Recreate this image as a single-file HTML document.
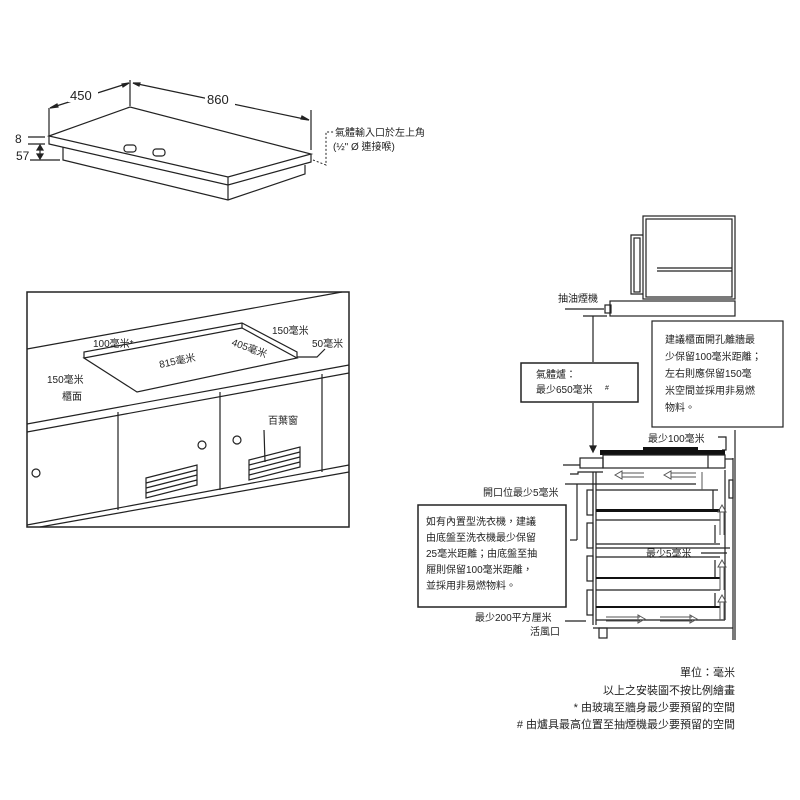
<!DOCTYPE html>
<html><head><meta charset="utf-8"><style>
html,body{margin:0;padding:0;background:#fff;}
svg{display:block;}
text{font-family:"Liberation Sans","Noto Sans CJK TC",sans-serif;fill:#222;}
</style></head><body>
<svg width="800" height="800" viewBox="0 0 800 800" xmlns="http://www.w3.org/2000/svg" stroke="#222" fill="none" stroke-width="1.2">
<!-- TOP HOB -->
<polygon points="49,136 130,107 311,154 228,177" fill="#fff"/>
<polyline points="49,136 49,144 228,185 311,162 311,154"/>
<line x1="228" y1="177" x2="228" y2="185"/>
<polyline points="63,147 63,160 228,200 305,174 305,165"/>
<line x1="228" y1="185" x2="228" y2="200"/>
<rect x="124" y="145" width="12" height="7" rx="3" fill="#fff"/>
<rect x="153" y="149" width="12" height="7" rx="3" fill="#fff"/>
<line x1="49" y1="108" x2="49" y2="136"/>
<line x1="130" y1="80" x2="130" y2="106"/>
<line x1="311" y1="110" x2="311" y2="150"/>
<line x1="50" y1="108" x2="129" y2="83"/>
<line x1="133" y1="83" x2="309" y2="120"/>
<polygon points="50,108 57,104 58,107" fill="#222"/>
<polygon points="129,83 122,84 123,87" fill="#222"/>
<polygon points="133,83 140,83 139,86" fill="#222"/>
<polygon points="309,120 302,116 301,119" fill="#222"/>
<rect x="68" y="88" width="30" height="14" fill="#fff" stroke="none"/>
<text x="70" y="100" font-size="13" stroke="none">450</text>
<rect x="205" y="92" width="30" height="14" fill="#fff" stroke="none"/>
<text x="207" y="104" font-size="13" stroke="none">860</text>
<text x="15" y="143" font-size="12" stroke="none">8</text>
<text x="16" y="160" font-size="12" stroke="none">57</text>
<line x1="28" y1="137" x2="45" y2="137"/><line x1="28" y1="144" x2="45" y2="144"/><line x1="30" y1="160" x2="60" y2="160"/>
<line x1="40" y1="145" x2="40" y2="159"/>
<polygon points="40,145 37,150 43,150" fill="#222"/><polygon points="40,159 37,154 43,154" fill="#222"/>
<polyline points="313,160 326,165 326,132 334,132" stroke-dasharray="2,2" stroke-width="1"/>
<text x="335" y="136" font-size="10" stroke="none">氣體輸入口於左上角</text>
<text x="333" y="150" font-size="10" stroke="none">(½" Ø 連接喉)</text>

<!-- MIDDLE LEFT -->
<rect x="27" y="292" width="322" height="235" stroke-width="1.5"/>
<line x1="27" y1="349" x2="342" y2="292"/>
<line x1="27" y1="424" x2="349" y2="365"/>
<line x1="27" y1="432" x2="349" y2="373"/>
<line x1="27" y1="525" x2="349" y2="465"/>
<line x1="40" y1="527" x2="349" y2="472"/>
<line x1="118" y1="412" x2="118" y2="510"/>
<line x1="220" y1="392" x2="220" y2="490"/>
<line x1="322" y1="374" x2="322" y2="472"/>
<polygon points="84,358 242,328 297,358 137,392" fill="#fff"/>
<polyline points="84,358 84,352 242,323 297,352 297,358"/>
<line x1="242" y1="323" x2="242" y2="328"/>
<polyline points="297,357 317,357 325,349"/>
<circle cx="36" cy="473" r="4"/><circle cx="202" cy="445" r="4"/><circle cx="237" cy="440" r="4"/>
<polygon points="146,478 197,465 197,485 146,498"/>
<line x1="146" y1="483" x2="197" y2="470"/><line x1="146" y1="488" x2="197" y2="475"/><line x1="146" y1="493" x2="197" y2="480"/>
<polygon points="249,460 300,447 300,467 249,480"/>
<line x1="249" y1="465" x2="300" y2="452"/><line x1="249" y1="470" x2="300" y2="457"/><line x1="249" y1="475" x2="300" y2="462"/>
<line x1="264" y1="430" x2="265" y2="462"/>
<text x="93" y="347" font-size="10" stroke="none">100毫米*</text>
<text x="160" y="368" font-size="10" stroke="none" transform="rotate(-12 160 368)">815毫米</text>
<text x="231" y="345" font-size="10" stroke="none" transform="rotate(20 231 345)">405毫米</text>
<text x="272" y="334" font-size="10" stroke="none">150毫米</text>
<text x="312" y="347" font-size="10" stroke="none">50毫米</text>
<text x="47" y="383" font-size="10" stroke="none">150毫米</text>
<text x="62" y="400" font-size="10" stroke="none">櫃面</text>
<text x="268" y="424" font-size="10" stroke="none">百葉窗</text>

<!-- HOOD -->
<rect x="643" y="216" width="92" height="83"/>
<rect x="646" y="219" width="86" height="78"/>
<polyline points="643,235 631,235 631,294 643,294"/>
<rect x="634" y="238" width="6" height="54"/>
<line x1="657" y1="268" x2="732" y2="268"/><line x1="657" y1="271" x2="732" y2="271"/>
<rect x="610" y="301" width="125" height="15" fill="#fff"/>
<rect x="605" y="305" width="6" height="8"/>
<line x1="565" y1="309" x2="604" y2="309"/>
<text x="558" y="302" font-size="10" stroke="none">抽油煙機</text>
<line x1="583" y1="316" x2="607" y2="316"/>
<line x1="593" y1="316" x2="593" y2="362"/>
<line x1="593" y1="403" x2="593" y2="451"/>
<polygon points="593,452 590,446 596,446" fill="#222"/>
<rect x="521" y="363" width="117" height="39" stroke-width="1.5"/>
<text x="536" y="378" font-size="10" stroke="none">氣體爐：</text>
<text x="536" y="393" font-size="10" stroke="none">最少650毫米</text><text x="605" y="390" font-size="7" stroke="none">#</text>
<rect x="652" y="321" width="131" height="106" stroke-width="1.2"/>
<g font-size="10" stroke="none"><text x="665" y="343" stroke="none">建議櫃面開孔離牆最</text>
<text x="665" y="360" stroke="none">少保留100毫米距離；</text>
<text x="665" y="377" stroke="none">左右則應保留150毫</text>
<text x="665" y="394" stroke="none">米空間並採用非易燃</text>
<text x="665" y="411" stroke="none">物料。</text></g>
<text x="648" y="442" font-size="10" stroke="none">最少100毫米</text>
<polyline points="718,437 726,437 726,450 722,450"/>

<!-- RIGHT CABINET -->
<line x1="735" y1="430" x2="735" y2="640"/>
<line x1="733" y1="458" x2="733" y2="640"/>
<rect x="600" y="450" width="125" height="5" fill="#111" stroke="none"/>
<rect x="643" y="447" width="55" height="5" fill="#111" stroke="none"/>
<rect x="603" y="455" width="122" height="13"/>
<line x1="708" y1="455" x2="708" y2="468"/>
<rect x="580" y="458" width="23" height="10"/>
<line x1="563" y1="465" x2="580" y2="465"/>
<line x1="725" y1="459" x2="733" y2="459"/>
<polyline points="570,474 578,474 578,472 603,472"/>
<line x1="593" y1="472" x2="593" y2="625"/><line x1="596" y1="472" x2="596" y2="625"/>
<line x1="565" y1="484" x2="696" y2="484"/>
<line x1="577" y1="484" x2="577" y2="540"/><line x1="570" y1="540" x2="577" y2="540"/>
<text x="483" y="496" font-size="10" stroke="none">開口位最少5毫米</text>
<line x1="596" y1="490" x2="718" y2="490"/>
<line x1="713" y1="490" x2="713" y2="510"/>
<rect x="596" y="509" width="124" height="3" fill="#111" stroke="none"/>
<line x1="596" y1="520" x2="720" y2="520"/><line x1="715" y1="525" x2="715" y2="543"/>
<line x1="596" y1="544" x2="720" y2="544"/><line x1="596" y1="548" x2="730" y2="548"/>
<line x1="596" y1="557" x2="720" y2="557"/><line x1="715" y1="560" x2="715" y2="577"/>
<rect x="596" y="577" width="124" height="2" fill="#111" stroke="none"/><line x1="596" y1="590" x2="720" y2="590"/>
<line x1="715" y1="593" x2="715" y2="607"/><rect x="596" y="606" width="124" height="2" fill="#111" stroke="none"/>
<rect x="587" y="490" width="6" height="25"/><rect x="587" y="523" width="6" height="25"/><rect x="587" y="556" width="6" height="25"/><rect x="587" y="590" width="6" height="25"/>
<rect x="729" y="480" width="4" height="18"/>
<line x1="725" y1="470" x2="725" y2="620"/>
<polyline points="596,620 725,620"/>
<line x1="593" y1="628" x2="733" y2="628"/>
<rect x="599" y="628" width="8" height="10"/>
<text x="646" y="557" font-size="10" stroke="none">最少5毫米</text>
<line x1="701" y1="553" x2="727" y2="553"/>
<g stroke="#555" stroke-width="1">
<polygon points="615,475 622,471 622,479"/><line x1="622" y1="473" x2="644" y2="473"/><line x1="622" y1="477" x2="644" y2="477"/>
<polygon points="664,475 671,471 671,479"/><line x1="671" y1="473" x2="696" y2="473"/><line x1="671" y1="477" x2="696" y2="477"/>
<line x1="702" y1="472" x2="702" y2="490"/>
<polygon points="722,505 718,512 726,512"/><line x1="720" y1="512" x2="720" y2="535"/><line x1="724" y1="512" x2="724" y2="535"/>
<polygon points="722,560 718,567 726,567"/><line x1="720" y1="567" x2="720" y2="590"/><line x1="724" y1="567" x2="724" y2="590"/>
<polygon points="722,595 718,602 726,602"/><line x1="720" y1="602" x2="720" y2="620"/><line x1="724" y1="602" x2="724" y2="620"/>
<line x1="606" y1="617" x2="640" y2="617"/><line x1="606" y1="621" x2="640" y2="621"/><polygon points="645,619 638,615 638,623"/>
<line x1="660" y1="617" x2="692" y2="617"/><line x1="660" y1="621" x2="692" y2="621"/><polygon points="697,619 690,615 690,623"/>
</g>
<rect x="418" y="505" width="148" height="102" stroke-width="1.5"/>
<g font-size="10" stroke="none"><text x="426" y="525" stroke="none">如有內置型洗衣機，建議</text>
<text x="426" y="541" stroke="none">由底盤至洗衣機最少保留</text>
<text x="426" y="557" stroke="none">25毫米距離；由底盤至抽</text>
<text x="426" y="573" stroke="none">屜則保留100毫米距離，</text>
<text x="426" y="589" stroke="none">並採用非易燃物料。</text></g>
<text x="475" y="621" font-size="10" stroke="none">最少200平方厘米</text>
<text x="530" y="635" font-size="10" stroke="none">活風口</text>
<line x1="565" y1="621" x2="586" y2="621"/>

<!-- NOTES -->
<g font-size="11" stroke="none" text-anchor="end"><text x="735" y="676" stroke="none">單位：毫米</text>
<text x="735" y="694" stroke="none">以上之安裝圖不按比例繪畫</text>
<text x="735" y="711" stroke="none">* 由玻璃至牆身最少要預留的空間</text>
<text x="735" y="728" stroke="none"># 由爐具最高位置至抽煙機最少要預留的空間</text></g>
</svg>
</body></html>
